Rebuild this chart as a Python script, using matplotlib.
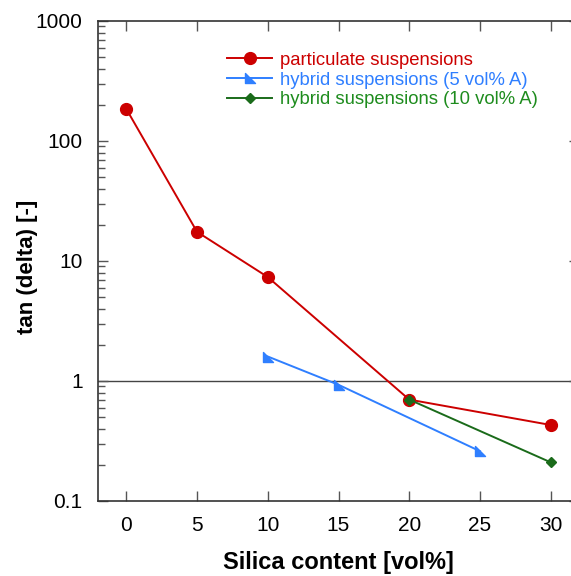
import matplotlib.pyplot as plt
import numpy as np
from matplotlib.ticker import FixedLocator, FixedFormatter, LogLocator, NullFormatter
from matplotlib.path import Path

plt.rcParams['font.family'] = ['Liberation Sans', 'DejaVu Sans']

# Daten
x_part = [0, 5, 10, 20, 30]
y_part = [185, 17.5, 7.35, 0.70, 0.43]

x_hyb5 = [10, 15, 25]
y_hyb5 = [1.6, 0.93, 0.26]

x_hyb10 = [20, 30]
y_hyb10 = [0.70, 0.21]

ytick_vals = [0.1, 1, 10, 100, 1000]
ytick_labels = ['0.1', '1', '10', '100', '1000']
xtick_vals = [0, 5, 10, 15, 20, 25, 30]

red = '#cc0000'
blue = '#2f7fff'
green = '#1a6b1a'

# Rechtwinkliges Dreieck als Marker
tri = Path([(-1, 1), (-1, -1), (1, -1), (-1, 1)],
           [Path.MOVETO, Path.LINETO, Path.LINETO, Path.CLOSEPOLY])

fig = plt.figure(figsize=(5.71, 5.76), dpi=100)
ax = fig.add_axes([98 / 571, 1 - 501 / 576, 481 / 571, 480 / 576])

ax.axhline(1, color='#444444', linewidth=1.0, zorder=1)

ax.plot(x_part, y_part, color=red, marker='o', markersize=8.5, linewidth=1.4,
        label='particulate suspensions', zorder=3)
ax.plot(x_hyb5, y_hyb5, color=blue, marker=tri, markersize=6.5, linewidth=1.4,
        label='hybrid suspensions (5 vol% A)', zorder=3)
ax.plot(x_hyb10, y_hyb10, color=green, marker='D', markersize=5, linewidth=1.4,
        label='hybrid suspensions (10 vol% A)', zorder=4)

ax.set_yscale('log')
ax.set_ylim(0.1, 1000)
ax.set_xlim(-2, 32)

ax.yaxis.set_major_locator(FixedLocator(ytick_vals))
ax.yaxis.set_major_formatter(FixedFormatter(ytick_labels))
ax.yaxis.set_minor_locator(LogLocator(base=10, subs=np.arange(2, 10)))
ax.yaxis.set_minor_formatter(NullFormatter())
ax.set_xticks(xtick_vals)

ax.tick_params(axis='both', which='major', direction='in', labelsize=15,
               top=True, right=True, length=7, width=1, color='#555555')
ax.tick_params(axis='y', which='major', pad=11)
ax.tick_params(axis='y', which='minor', direction='in', length=5, width=1,
               color='#555555', right=True)
ax.tick_params(axis='x', pad=11)

for s in ax.spines.values():
    s.set_linewidth(1.2)
    s.set_color('#333333')

ax.set_xlabel('Silica content [vol%]', fontsize=17, fontweight='bold')
ax.set_ylabel('tan (delta) [-]', fontsize=16, fontweight='bold')
ax.xaxis.set_label_coords(0.5, -(563 - 501) / 480)
ax.yaxis.set_label_coords(-(98 - 28) / 481, 1 - (267 - 21) / 480)
ax.xaxis.label.set_va('center')
ax.yaxis.label.set_va('center')

ax.legend(loc='upper left', bbox_to_anchor=(0.25, 0.955), frameon=False,
          fontsize=13.3, labelcolor=[red, blue, '#1e8c1e'], handlelength=2.4,
          handletextpad=0.45, labelspacing=0.15, borderpad=0)

fig.savefig('out.png', dpi=100)
